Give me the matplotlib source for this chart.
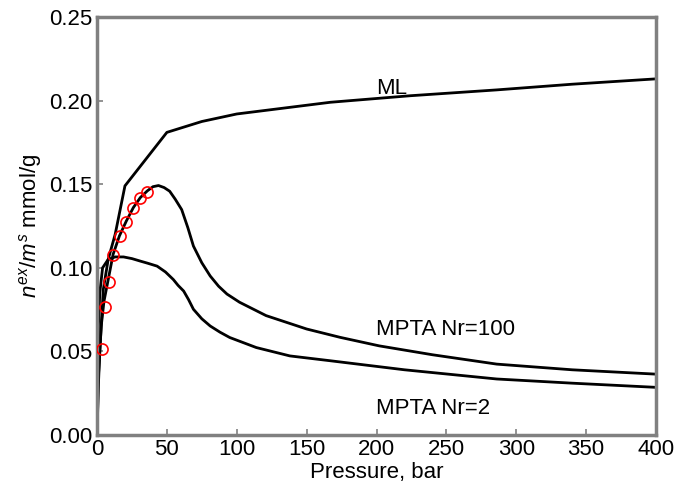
import matplotlib
matplotlib.use('Agg')
import matplotlib.pyplot as plt

plt.rcParams['font.family'] = ['Liberation Sans', 'DejaVu Sans']
plt.rcParams['mathtext.fontset'] = 'custom'
plt.rcParams['mathtext.it'] = 'Liberation Sans:italic'
plt.rcParams['mathtext.rm'] = 'Liberation Sans'

# ML curve
p_ml = [0, 1, 2, 4.5, 8, 13, 20, 50, 75, 100, 167, 224, 286, 340, 400]
n_ml = [0, 0.03, 0.05, 0.087, 0.105, 0.12, 0.149, 0.181, 0.1875, 0.192, 0.199, 0.2029, 0.2064, 0.2098, 0.213]

# MPTA Nr=100
p_100 = [0, 1, 3, 5, 8.5, 11.5, 16, 21, 26, 31, 36, 40, 44, 48, 52, 56, 60.6, 65, 69, 75, 81, 87, 93,
         102, 121, 150, 174, 202, 240, 286, 340, 400]
n_100 = [0, 0.035, 0.065, 0.08, 0.095, 0.108, 0.119, 0.128, 0.136, 0.142, 0.146, 0.1485, 0.1492, 0.148,
         0.1458, 0.141, 0.1348, 0.124, 0.113, 0.103, 0.0951, 0.089, 0.0843, 0.0794, 0.0714, 0.0634, 0.0584,
         0.0533, 0.048, 0.0424, 0.039, 0.0364]

# MPTA Nr=2
p_2 = [0, 1, 2, 4, 8, 13, 19, 25, 31, 36, 43, 49, 54.6, 58, 62, 65.5, 69, 75, 81, 88, 95, 114, 138,
       167, 220, 286, 340, 400]
n_2 = [0, 0.065, 0.085, 0.100, 0.105, 0.1065, 0.1065, 0.1055, 0.104, 0.1028, 0.101, 0.0975, 0.093,
       0.0895, 0.0861, 0.081, 0.0752, 0.0695, 0.0652, 0.0615, 0.0583, 0.0523, 0.0473, 0.0444, 0.039,
       0.0335, 0.031, 0.0285]

# experimental points
p_exp = [3.3, 5.7, 8.8, 11.7, 16.5, 20.8, 25.5, 30.8, 35.6]
n_exp = [0.0514, 0.0766, 0.0917, 0.1075, 0.119, 0.1276, 0.1356, 0.1416, 0.1455]

fig = plt.figure(figsize=(6.9, 4.92), dpi=100)
ax = fig.add_axes([97 / 690, 1 - 435 / 492, 559 / 690, 418 / 492])

ax.plot(p_ml, n_ml, color='black', lw=2)
ax.plot(p_100, n_100, color='black', lw=2)
ax.plot(p_2, n_2, color='black', lw=2)
ax.plot(p_exp, n_exp, 'o', mfc='none', mec='red', ms=8, mew=1.2, zorder=3)

ax.text(200, 0.204, 'ML', fontsize=16)
ax.text(200, 0.0597, 'MPTA Nr=100', fontsize=16)
ax.text(200, 0.0125, 'MPTA Nr=2', fontsize=16)

ax.set_xlim(0, 400)
ax.set_ylim(0, 0.25)
ax.set_xticks(range(0, 401, 50))
ax.set_yticks([0, 0.05, 0.10, 0.15, 0.20, 0.25])
ax.set_yticklabels(['0.00', '0.05', '0.10', '0.15', '0.20', '0.25'])
ax.tick_params(direction='in', labelsize=16, length=4, width=1.2, color='gray', pad=3)
for s in ax.spines.values():
    s.set_color('gray')
    s.set_linewidth(2.5)

ax.set_xlabel('Pressure, bar', fontsize=16, labelpad=1)
ax.set_ylabel('$n^{ex}/m^s$ mmol/g', fontsize=16, labelpad=4)

fig.savefig('out.png', dpi=100)
